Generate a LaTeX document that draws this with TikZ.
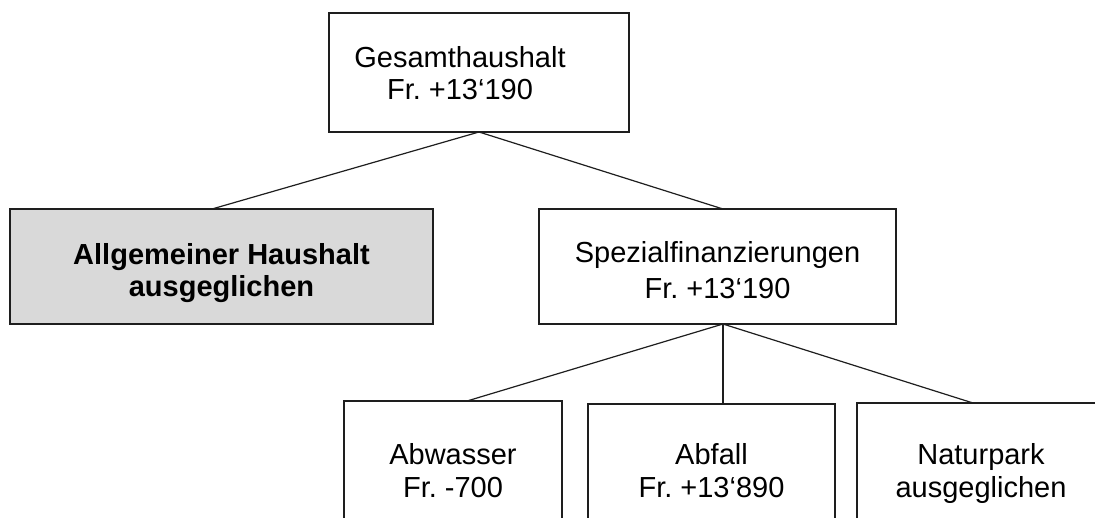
\documentclass[tikz,border=0pt]{standalone}
\usepackage{fontspec}
\usetikzlibrary{calc}
\setmainfont{Liberation Sans}
\frenchspacing
\definecolor{boxgray}{RGB}{217,217,217}
\definecolor{linegray}{RGB}{30,30,30}
\begin{document}
\begin{tikzpicture}[x=1pt,y=-1pt,
  box/.style={draw=linegray, line width=1.2pt, fill=white, inner sep=0pt, outer sep=0pt},
  graybox/.style={box, fill=boxgray},
  txt/.style={inner sep=0pt, align=center, font=\fontsize{29}{33}\selectfont},
  conn/.style={draw=linegray, line width=1.2pt}]
\useasboundingbox (0,0) rectangle (1095,517);
\clip (0,0) rectangle (1095,517);
\fill[white] (0,0) rectangle (1095,517);
\node[box, minimum width=300pt, minimum height=119pt] (top) at (479,72.5) {};
\node[graybox, minimum width=423pt, minimum height=115pt] (left) at (221.5,266.5) {};
\node[box, minimum width=357pt, minimum height=115pt] (spez) at (717.5,266.5) {};
\node[box, minimum width=218pt, minimum height=140pt] (abw) at (453,471) {};
\node[box, minimum width=247pt, minimum height=140pt] (abf) at (711.5,474) {};
\node[box, minimum width=248pt, minimum height=140pt] (nat) at (981,473) {};
\node[txt, font=\fontsize{29}{32}\selectfont] (topT) at ($(top.center)+(-19,1)$) {Gesamthaushalt\\Fr. +13‘190};
\node[txt, font=\fontsize{29}{32}\selectfont\bfseries] (leftT) at ($(left.center)+(0,7)$) {Allgemeiner Haushalt\\ausgeglichen};
\node[txt, font=\fontsize{29}{36}\selectfont] (spezT) at ($(spez.center)+(0,4)$) {Spezialfinanzierungen\\Fr. +13‘190};
\node[txt] (abwT) at ($(abw.center)+(0,0)$) {Abwasser\\Fr. -700};
\node[txt] (abfT) at ($(abf.center)+(0,-3.5)$) {Abfall\\Fr. +13‘890};
\node[txt] (natT) at ($(nat.center)+(0,0)$) {Naturpark\\ausgeglichen};
\draw[conn] (top.south) -- ([xshift=-9.5pt]left.north);
\draw[conn] (top.south) -- ([xshift=5.5pt]spez.north);
\draw[conn] ([xshift=5.5pt]spez.south) -- ([xshift=14pt]abw.north);
\draw[conn] ([xshift=5.5pt]spez.south) -- ([xshift=11.5pt]abf.north);
\draw[conn] ([xshift=5.5pt]spez.south) -- ([xshift=-8pt]nat.north);
\end{tikzpicture}
\end{document}
